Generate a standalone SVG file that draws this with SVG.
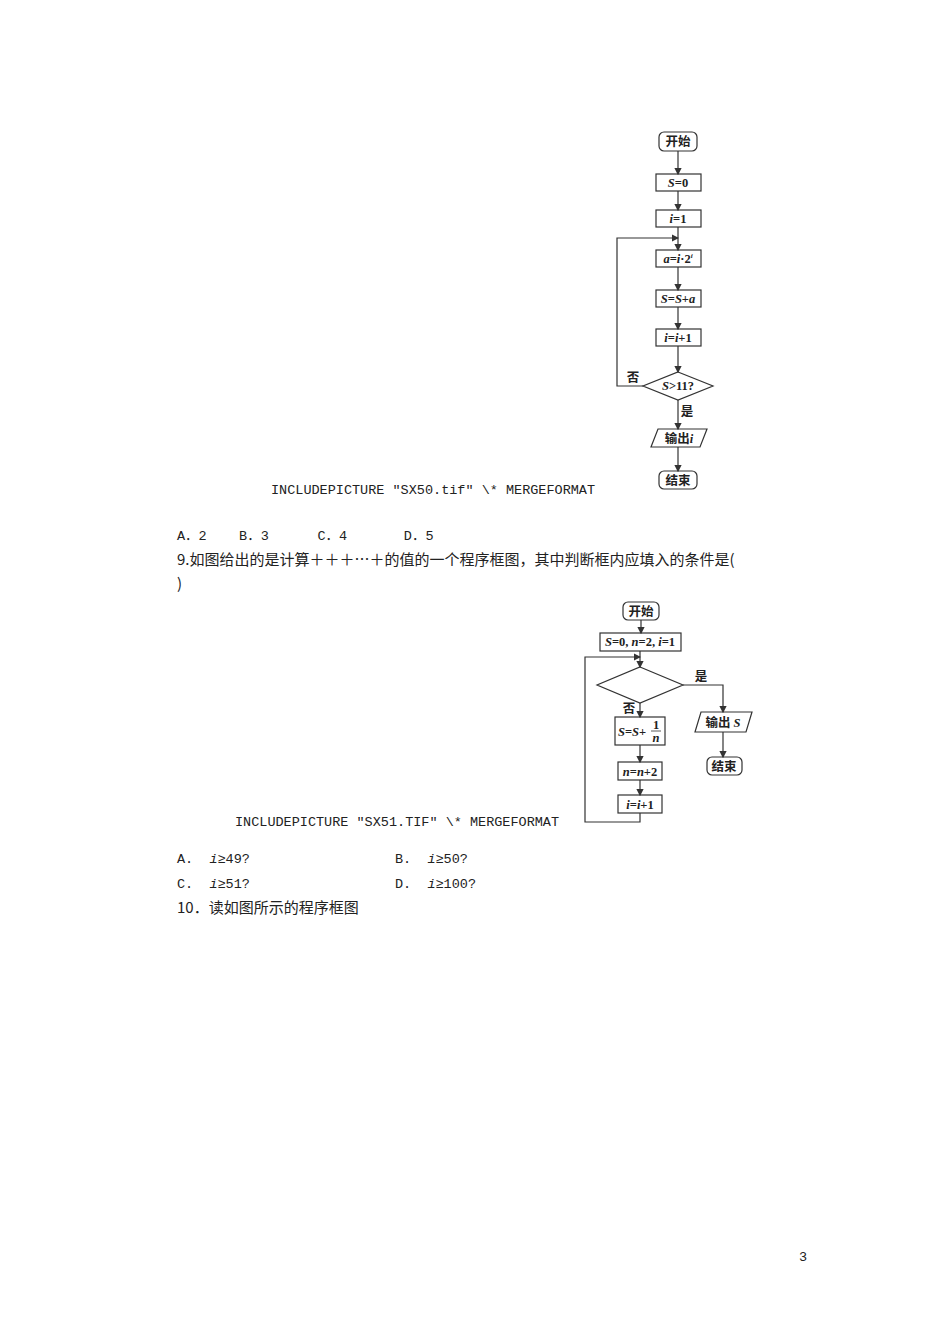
<svg xmlns="http://www.w3.org/2000/svg" width="950" height="1344" viewBox="0 0 950 1344" xml:space="preserve">
<defs><marker id="ar" markerWidth="6" markerHeight="6" refX="5" refY="3" orient="auto"><path d="M0,0 L6,3 L0,6 z" fill="#333"/></marker></defs>
<style>
.t{font-family:"Liberation Mono","Noto Sans CJK SC",monospace;font-size:13.5px;fill:#222;white-space:pre}
.c{font-family:"Noto Sans CJK SC",sans-serif;font-size:15px;fill:#222}
.f{font-family:"Liberation Serif","Noto Sans CJK SC",serif;font-size:12.5px;font-weight:bold;fill:#222;text-anchor:middle}
.b{fill:#fff;stroke:#333;stroke-width:1.2}
.l{fill:none;stroke:#333;stroke-width:1.2}
</style>
<rect width="950" height="1344" fill="#fff"/>
<g id="fc1">
<g id="start1"><rect class="b" x="659" y="132" width="38" height="19" rx="5"/><text class="f" x="678" y="146">开始</text></g>
<g id="s0"><rect class="b" x="656" y="174" width="45" height="17"/><text class="f" x="678" y="187"><tspan font-style="italic">S</tspan>=0</text></g>
<g id="i1"><rect class="b" x="656" y="210" width="45" height="17"/><text class="f" x="678" y="223"><tspan font-style="italic">i</tspan>=1</text></g>
<g id="a"><rect class="b" x="656" y="250" width="45" height="17"/><text class="f" x="678" y="263"><tspan font-style="italic">a</tspan>=<tspan font-style="italic">i</tspan>·2<tspan font-size="7" dy="-5" font-style="italic">i</tspan></text></g>
<g id="ssa"><rect class="b" x="656" y="290" width="45" height="17"/><text class="f" x="678" y="303"><tspan font-style="italic">S</tspan>=<tspan font-style="italic">S</tspan>+<tspan font-style="italic">a</tspan></text></g>
<g id="ii1"><rect class="b" x="656" y="329" width="45" height="17"/><text class="f" x="678" y="342"><tspan font-style="italic">i</tspan>=<tspan font-style="italic">i</tspan>+1</text></g>
<g id="d1"><polygon class="b" points="678,372 713,386 678,400 643,386"/><text class="f" x="678" y="390"><tspan font-style="italic">S</tspan>&gt;11?</text></g>
<g id="out1"><polygon class="b" points="658,429 707,429 700,447 651,447"/><text class="f" x="679" y="443">输出<tspan font-style="italic">i</tspan></text></g>
<g id="end1"><rect class="b" x="659" y="471" width="38" height="18" rx="5"/><text class="f" x="678" y="485">结束</text></g>
</g>
<g id="conn1">
<path class="l" d="M678,151 V174" marker-end="url(#ar)"/>
<path class="l" d="M678,191 V210" marker-end="url(#ar)"/>
<path class="l" d="M678,227 V250" marker-end="url(#ar)"/>
<path class="l" d="M678,267 V290" marker-end="url(#ar)"/>
<path class="l" d="M678,307 V329" marker-end="url(#ar)"/>
<path class="l" d="M678,346 V372" marker-end="url(#ar)"/>
<path class="l" d="M678,400 V429" marker-end="url(#ar)"/>
<path class="l" d="M678,447 V471" marker-end="url(#ar)"/>
<path class="l" d="M643,386 H617 V238 H678" marker-end="url(#ar)"/>
<text class="f" x="633" y="382">否</text>
<text class="f" x="687" y="416">是</text>
</g>
<text class="t" x="271" y="494">INCLUDEPICTURE "SX50.tif" \* MERGEFORMAT</text>
<text class="t" x="177" y="540">A．2    B．3      C．4       D．5</text>
<text class="c" x="177" y="565">9.如图给出的是计算＋＋＋…＋的值的一个程序框图，其中判断框内应填入的条件是(</text>
<text class="c" x="177" y="589">)</text>
<g id="fc2">
<g id="start2"><rect class="b" x="623" y="602" width="36" height="18" rx="5"/><text class="f" x="641" y="616">开始</text></g>
<g id="init2"><rect class="b" x="600" y="633" width="81" height="18"/><text class="f" x="640" y="646"><tspan font-style="italic">S</tspan>=0, <tspan font-style="italic">n</tspan>=2, <tspan font-style="italic">i</tspan>=1</text></g>
<g id="d2"><polygon class="b" points="640,667 683,685 640,703 597,685"/></g>
<g id="ssn"><rect class="b" x="615" y="717" width="50" height="28"/><text class="f" x="632" y="736"><tspan font-style="italic">S</tspan>=<tspan font-style="italic">S</tspan>+</text><text class="f" x="656" y="729">1</text><line x1="651" y1="731" x2="661" y2="731" stroke="#333" stroke-width="0.8"/><text class="f" x="656" y="742" font-style="italic">n</text></g>
<g id="nn2"><rect class="b" x="618" y="762" width="44" height="18"/><text class="f" x="640" y="776"><tspan font-style="italic">n</tspan>=<tspan font-style="italic">n</tspan>+2</text></g>
<g id="ii2"><rect class="b" x="618" y="795" width="44" height="18"/><text class="f" x="640" y="809"><tspan font-style="italic">i</tspan>=<tspan font-style="italic">i</tspan>+1</text></g>
<g id="out2"><polygon class="b" points="701,712 752,712 746,732 695,732"/><text class="f" x="723" y="727">输出 <tspan font-style="italic">S</tspan></text></g>
<g id="end2"><rect class="b" x="707" y="757" width="35" height="18" rx="5"/><text class="f" x="724" y="771">结束</text></g>
</g>
<g id="conn2">
<path class="l" d="M641,620 V633" marker-end="url(#ar)"/>
<path class="l" d="M640,651 V667" marker-end="url(#ar)"/>
<path class="l" d="M640,703 V717" marker-end="url(#ar)"/>
<path class="l" d="M640,745 V762" marker-end="url(#ar)"/>
<path class="l" d="M640,780 V795" marker-end="url(#ar)"/>
<path class="l" d="M640,813 V822 H585 V657 H640" marker-end="url(#ar)"/>
<path class="l" d="M683,685 H723 V712" marker-end="url(#ar)"/>
<path class="l" d="M723,732 V757" marker-end="url(#ar)"/>
<text class="f" x="701" y="681">是</text>
<text class="f" x="629" y="713">否</text>
</g>
<text class="t" x="235" y="826">INCLUDEPICTURE "SX51.TIF" \* MERGEFORMAT</text>
<text class="t" x="177" y="863">A.  <tspan font-style="italic">i</tspan>≥49?</text>
<text class="t" x="395" y="863">B.  <tspan font-style="italic">i</tspan>≥50?</text>
<text class="t" x="177" y="888">C.  <tspan font-style="italic">i</tspan>≥51?</text>
<text class="t" x="395" y="888">D.  <tspan font-style="italic">i</tspan>≥100?</text>
<text class="c" x="177" y="913">10．读如图所示的程序框图</text>
<text class="t" x="799" y="1261">3</text>
</svg>
